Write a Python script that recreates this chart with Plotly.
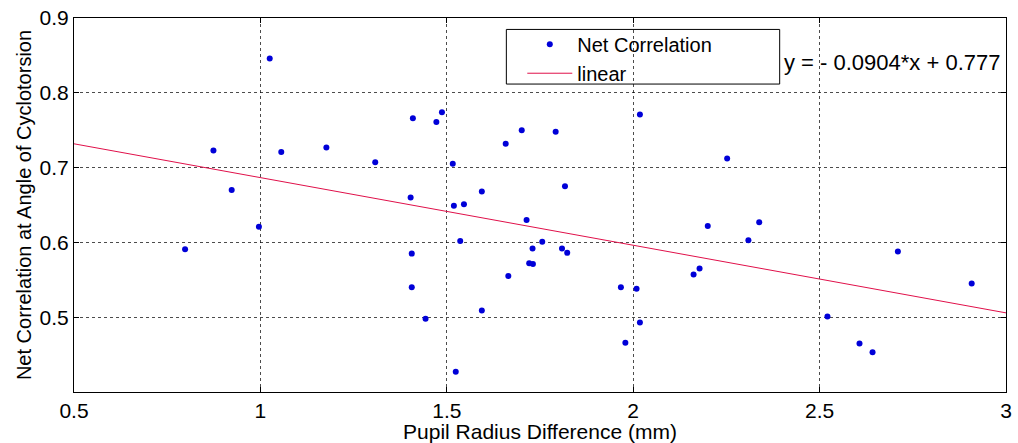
import plotly.graph_objects as go

x_vals = [0.798, 0.874, 0.923, 0.996, 1.025, 1.056, 1.177,
          1.308, 1.409, 1.403, 1.406, 1.406, 1.443, 1.472, 1.487, 1.516, 1.519,
          1.546, 1.536, 1.524, 1.594, 1.594, 1.658, 1.665, 1.701, 1.714, 1.730,
          1.721, 1.731, 1.756, 1.792, 1.817, 1.809, 1.823, 1.967, 1.979, 2.009,
          2.018, 2.018,
          2.252, 2.200, 2.162, 2.178, 2.309, 2.338, 2.521, 2.607, 2.642, 2.710, 2.908]
y_vals = [0.591, 0.723, 0.670, 0.621, 0.846, 0.721, 0.727,
          0.707, 0.766, 0.660, 0.585, 0.540, 0.498, 0.761, 0.774, 0.705, 0.649,
          0.651, 0.602, 0.427, 0.668, 0.509, 0.732, 0.555, 0.750, 0.630, 0.592,
          0.572, 0.571, 0.601, 0.748, 0.675, 0.592, 0.586, 0.540, 0.466, 0.538,
          0.771, 0.493,
          0.712, 0.622, 0.557, 0.565, 0.603, 0.627, 0.501, 0.465, 0.453, 0.588, 0.545]

fit_slope = -0.0904
fit_intercept = 0.777
fit_x = [0.5, 3.0]
fit_y = [fit_slope * v + fit_intercept for v in fit_x]

x_ticks = [0.5, 1, 1.5, 2, 2.5, 3]
x_tick_labels = ["0.5", "1", "1.5", "2", "2.5", "3"]
y_ticks = [0.5, 0.6, 0.7, 0.8, 0.9]
y_tick_labels = ["0.5", "0.6", "0.7", "0.8", "0.9"]

FONT = "Liberation Sans, Arial, Helvetica, sans-serif"

fig = go.Figure()
fig.add_trace(go.Scatter(x=x_vals, y=y_vals, mode="markers", name="Net Correlation",
                         marker=dict(color="#0000d8", size=6, line=dict(width=0))))
fig.add_trace(go.Scatter(x=fit_x, y=fit_y, mode="lines", name="linear",
                         line=dict(color="#e0104a", width=1)))

axis_common = dict(showline=True, linecolor="black", linewidth=1, mirror="ticks",
                   ticks="inside", ticklen=5, tickcolor="black",
                   showgrid=True, gridcolor="rgba(0,0,0,0.7)", griddash="dot", gridwidth=1,
                   zeroline=False, tickfont=dict(family=FONT, size=21, color="black"))

fig.update_layout(
    width=1018, height=443,
    margin=dict(l=74, r=6, t=17, b=49),
    paper_bgcolor="white", plot_bgcolor="white",
    font=dict(family=FONT, color="black"),
    showlegend=True,
    legend=dict(x=0.481, y=0.982, xanchor="left", yanchor="top",
                borderwidth=0, bgcolor="rgba(0,0,0,0)",
                font=dict(family=FONT, size=20, color="black"),
                tracegroupgap=0, itemwidth=45),
    xaxis=dict(range=[0.5, 3], tickvals=x_ticks, ticktext=x_tick_labels,
               title=dict(text="Pupil Radius Difference (mm)", font=dict(family=FONT, size=21), standoff=0),
               **axis_common),
    yaxis=dict(range=[0.4, 0.9], tickvals=y_ticks, ticktext=y_tick_labels,
               title=dict(text="Net Correlation at Angle of Cyclotorsion", font=dict(family=FONT, size=20), standoff=2),
               **axis_common),
)

# legend frame
fig.add_shape(type="rect", xref="paper", yref="paper",
              x0=(509 - 74) / 937.7, x1=(784 - 74) / 937.7,
              y0=(394 - 84) / 376.5, y1=(394 - 29) / 376.5,
              line=dict(color="black", width=1), fillcolor="white", layer="between")

fig.add_annotation(text="y = - 0.0904*x + 0.777", xref="paper", yref="paper",
                   x=0.760, y=0.882, xanchor="left", yanchor="middle", showarrow=False,
                   font=dict(family=FONT, size=22, color="black"))

fig.write_html("out.html")
